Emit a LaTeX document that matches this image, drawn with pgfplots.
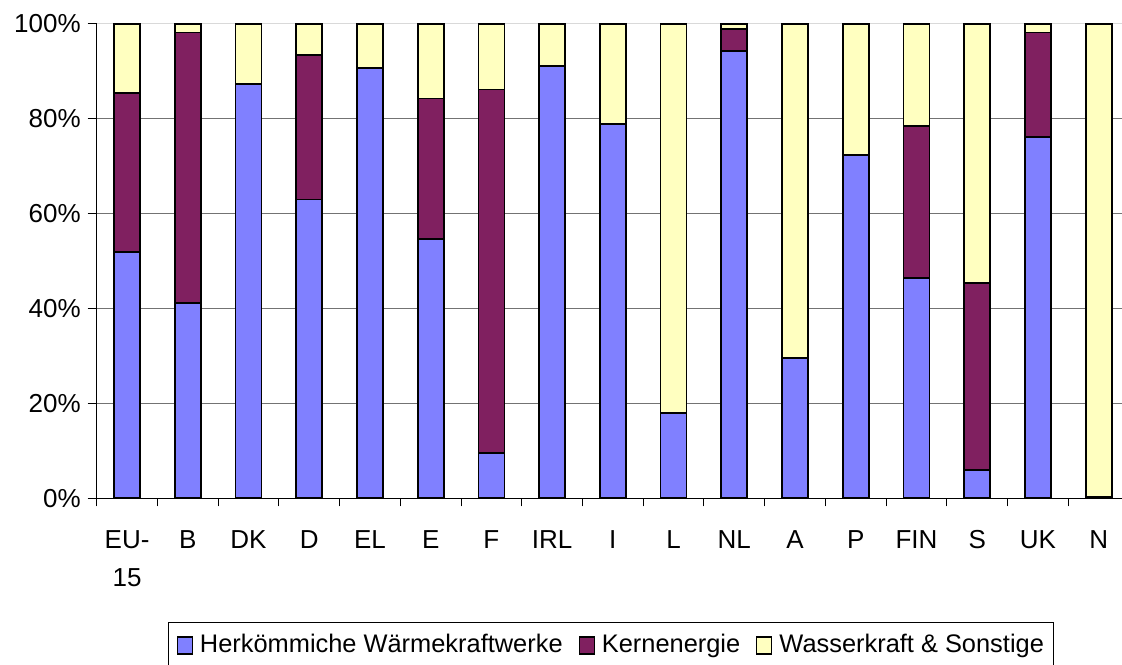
\documentclass[border=0pt]{standalone}
\usepackage{pgfplots}
\pgfplotsset{compat=1.18}
\usepackage{fontspec}
\setmainfont{Liberation Sans}
\definecolor{cblue}{HTML}{8080FF}
\definecolor{cpurple}{HTML}{802060}
\definecolor{cyellow}{HTML}{FFFFC0}
\begin{document}
\begin{tikzpicture}
\path[use as bounding box] (-48.35pt,-82.85pt) rectangle (512.65pt,249.15pt);
\begin{axis}[
  at={(0pt,0pt)}, anchor=south west,
  scale only axis, width=512.65pt, height=237.15pt,
  xmin=-0.5, xmax=16.385, ymin=0, ymax=100,
  ybar stacked, bar width=13pt,
  axis x line*=bottom, axis y line*=left,
  axis line style={-, black, line width=0.5pt},
  xtick={0,...,16},
  xticklabels={{EU-\\15},B,DK,D,EL,E,F,IRL,I,L,NL,A,P,FIN,S,UK,N},
  xticklabel style={align=center, font=\fontsize{13}{19}\selectfont, yshift=-8pt},
  major x tick style={draw=none},
  minor xtick={-0.5,0.5,...,15.5},
  tick align=outside,
  major tick length=4.5pt, minor tick length=4pt,
  tick style={black, line width=0.5pt},
  ytick={0,20,40,60,80},
  extra y ticks={100}, extra y tick labels={100\%},
  extra y tick style={grid style={black!15, line width=0.5pt}},
  yticklabel={\pgfmathprintnumber{\tick}\%},
  yticklabel style={font=\fontsize{13}{15}\selectfont},
  /pgf/number format/assume math mode=true,
  ymajorgrids, grid style={black!55, line width=0.5pt},
  legend columns=3, legend cell align=left,
  legend style={at={(0.0698,-0.2602)}, anchor=north west, draw=black, line width=0.5pt,
    font=\fontsize{12.7}{15}\selectfont, inner xsep=4pt, inner ysep=4pt,
    nodes={inner xsep=1pt},
    /tikz/every odd column/.append style={column sep=2.5pt},
    /tikz/every even column/.append style={column sep=7pt}},
  legend image code/.code={\draw[#1,draw=black,line width=0.6pt] (0pt,-4.5pt) rectangle (7.5pt,4pt);},
]
\addplot[fill=cblue, draw=black, line width=0.9pt] coordinates {
(0,52.0) (1,41.1) (2,87.4) (3,63.0) (4,90.8) (5,54.7) (6,9.6) (7,91.2) (8,78.9)
(9,18.0) (10,94.3) (11,29.6) (12,72.3) (13,46.4) (14,6.0) (15,76.2) (16,0.3)};
\addplot[fill=cpurple, draw=black, line width=0.9pt] coordinates {
(0,33.4) (1,57.1) (2,0) (3,30.5) (4,0) (5,29.6) (6,76.6) (7,0) (8,0)
(9,0) (10,4.6) (11,0) (12,0) (13,32.1) (14,39.4) (15,22.0) (16,0)};
\addplot[fill=cyellow, draw=black, line width=0.9pt] coordinates {
(0,14.6) (1,1.8) (2,12.6) (3,6.5) (4,9.2) (5,15.7) (6,13.8) (7,8.8) (8,21.1)
(9,82.0) (10,1.1) (11,70.4) (12,27.7) (13,21.5) (14,54.6) (15,1.8) (16,99.7)};
\legend{Herkömmiche Wärmekraftwerke, Kernenergie, Wasserkraft \& Sonstige}
\end{axis}
\end{tikzpicture}
\end{document}
